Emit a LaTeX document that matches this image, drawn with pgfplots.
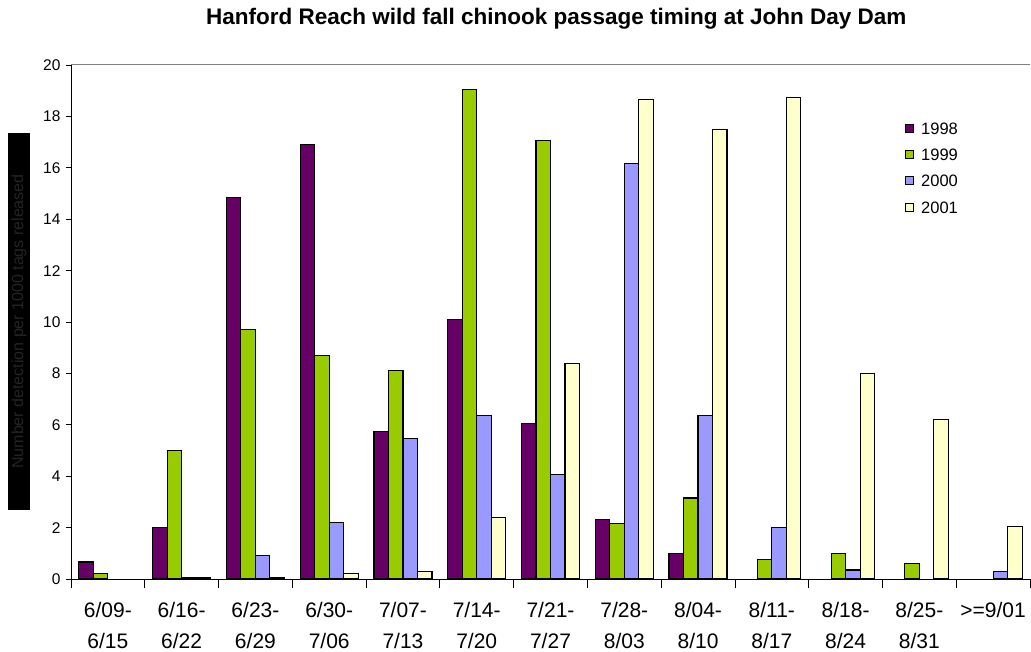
\documentclass[border=0pt]{standalone}
\usepackage{pgfplots}
\pgfplotsset{compat=1.18}
\usepackage{fontspec}
\setmainfont{Liberation Sans}
\definecolor{c98}{HTML}{660066}
\definecolor{c99}{HTML}{99CC00}
\definecolor{c00}{HTML}{9999FF}
\definecolor{c01}{HTML}{FFFFCC}
\begin{document}
\begin{tikzpicture}
\useasboundingbox (0,0) rectangle (1031pt,652pt);
\begin{axis}[
  at={(71pt,73pt)}, anchor=south west,
  scale only axis, width=959pt, height=514pt,
  ybar=0pt, bar width=14.5pt,
  xmin=-0.5, xmax=12.5, ymin=0, ymax=20,
  axis x line*=bottom, axis y line*=left,
  axis line style={black, line width=0.8pt, -},
  xtick={0,...,12},
  xticklabels={{6/09-\\6/15},{6/16-\\6/22},{6/23-\\6/29},{6/30-\\7/06},{7/07-\\7/13},{7/14-\\7/20},{7/21-\\7/27},{7/28-\\8/03},{8/04-\\8/10},{8/11-\\8/17},{8/18-\\8/24},{8/25-\\8/31},{>=9/01\\\phantom{0}}},
  major x tick style={draw=none},
  minor xtick={-0.5,0.5,...,12.5},
  minor x tick style={black, line width=0.8pt},
  tick align=outside,
  minor tick length=9pt,
  major tick length=5pt,
  ytick={0,2,...,20},
  y tick style={black, line width=0.8pt},
  xticklabel style={align=center, font=\fontsize{21}{31}\selectfont, yshift=-15pt},
  yticklabel style={font=\fontsize{15.5}{17}\selectfont, xshift=-2pt},
  /pgf/number format/assume math mode=true,
  title={\textbf{Hanford Reach wild fall chinook passage timing at John Day Dam}},
  title style={at={(rel axis cs:0.506,1.0778)}, anchor=center, font=\fontsize{22.5}{26}\selectfont},
  ylabel={Number detection per 1000 tags released},
  every axis y label/.style={at={(rel axis cs:0,0.501)}, xshift=-52pt, rotate=90, anchor=center,
     fill=black, text=black!86, font=\fontsize{16}{18}\selectfont, minimum width=377pt, minimum height=22pt, inner sep=0pt},
  legend style={draw=none, fill=none, at={(rel axis cs:0.8697,0.889)}, anchor=north west,
     inner sep=0pt, row sep=14.3pt, font=\fontsize{16.5}{18}\selectfont,
     nodes={inner sep=0pt, text height=12pt, text depth=0pt, anchor=west},
     /tikz/every even column/.append style={column sep=0pt}},
  legend cell align=left,
  legend image code/.code={\draw[#1, line width=0.8pt] (0pt,-4pt) rectangle (8pt,4pt); \path (15pt,0pt);},
  every axis plot/.append style={draw=black, line width=1.1pt},
]
\draw[gray, line width=1pt] (rel axis cs:0,1) -- (rel axis cs:1,1);
\addplot[fill=c98] coordinates {(0,0.66) (1,2.0) (2,14.85) (3,16.9) (4,5.75) (5,10.1) (6,6.05) (7,2.3) (8,1.0)};
\addplot[fill=c99] coordinates {(0,0.23) (1,5.0) (2,9.7) (3,8.7) (4,8.1) (5,19.05) (6,17.05) (7,2.15) (8,3.15) (9,0.75) (10,1.0) (11,0.6)};
\addplot[fill=c00] coordinates {(1,0.05) (2,0.9) (3,2.2) (4,5.45) (5,6.35) (6,4.05) (7,16.15) (8,6.35) (9,2.0) (10,0.35) (12,0.3)};
\addplot[fill=c01] coordinates {(1,0.05) (2,0.05) (3,0.2) (4,0.3) (5,2.4) (6,8.4) (7,18.65) (8,17.5) (9,18.75) (10,8.0) (11,6.2) (12,2.05)};
\legend{1998,1999,2000,2001}
\end{axis}
\end{tikzpicture}
\end{document}
